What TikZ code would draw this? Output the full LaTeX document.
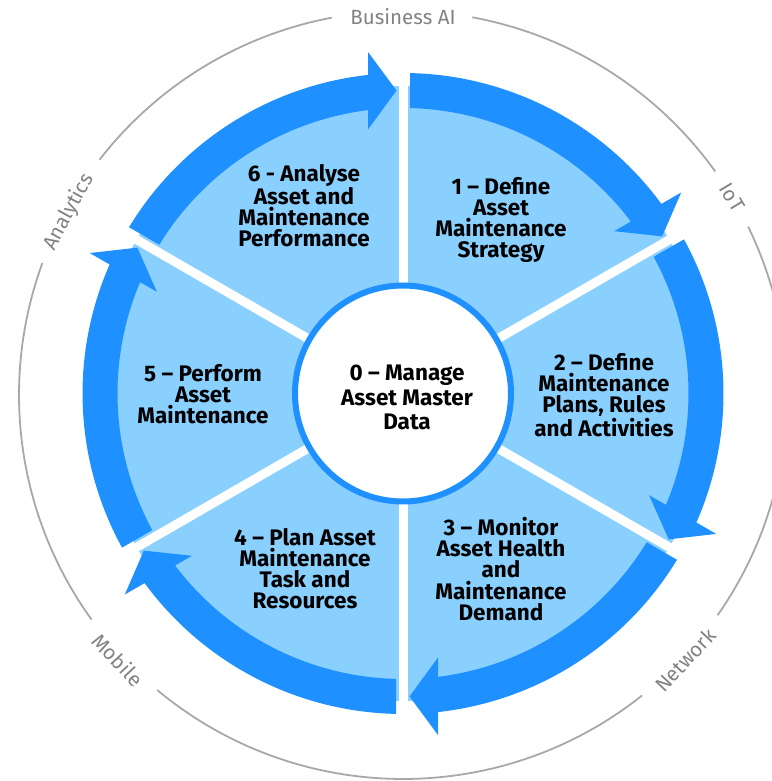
\documentclass[tikz,border=0pt]{standalone}
\usepackage{fontspec}
\setmainfont{Fira Sans}
\definecolor{dblue}{RGB}{30,144,255}
\definecolor{lblue}{RGB}{138,208,255}
\definecolor{ringgray}{RGB}{168,168,168}
\definecolor{ringtext}{RGB}{130,130,130}
\tikzset{
  steplabel/.style={font=\bfseries\fontsize{22.5}{21.2}\selectfont, align=center, text=black, inner sep=0pt},
  centerlabel/.style={font=\bfseries\fontsize{22.5}{24.5}\selectfont, align=center, text=black, inner sep=0pt},
  ringlabel/.style={font=\fontsize{20.5}{22}\selectfont, text=ringtext, inner sep=0pt, text depth=0pt},
  ringline/.style={draw=ringgray, line width=1.8pt},
  gapstrip/.style={draw=white, line width=9pt},
}
\begin{document}
\begin{tikzpicture}[x=1pt,y=1pt]
\useasboundingbox (0,0) rectangle (771,781);
% outer gray ring (center 403,395 in image coords)
\begin{scope}[shift={(403,386)}]
  \coordinate (ringc) at (0,0);
  \draw[ringline] (35.6:384) arc[start angle=35.6, end angle=79.6, radius=384];
  \draw[ringline] (100.7:384) arc[start angle=100.7, end angle=142.2, radius=384];
  \draw[ringline] (159.9:384) arc[start angle=159.9, end angle=215.8, radius=384];
  \draw[ringline] (230.2:384) arc[start angle=230.2, end angle=308.5, radius=384];
  \draw[ringline] (-35.0:384) arc[start angle=-35.0, end angle=26.0, radius=384];
  \node[ringlabel] (bai) at (90:378) {Business AI};
  \node[ringlabel, rotate=-59] (iot) at (31:384) {IoT};
  \node[ringlabel, rotate=61.3] (ana) at (151.3:383) {Analytics};
  \node[ringlabel, rotate=-47.1] (mob) at (-137.1:389) {Mobile};
  \node[ringlabel, rotate=46.8] (net) at (-43.2:387) {Network};
\end{scope}
% wheel (center 403,393.5 in image coords)
\begin{scope}[shift={(403,387.5)}]
  \fill[lblue] (0,0) circle[radius=307.5];
  \foreach \a in {90,30,-30,-90,-150,150}{
    \begin{scope}[rotate=\a]
      \fill[dblue] (-1.2515:320.5) arc[start angle=-1.2515, end angle=-53.730, radius=320.5]
        -- (-54.148:343.29) -- (-58.771:303.07) -- (-52.448:266.31) -- (-52.958:285.5)
        arc[start angle=-52.958, end angle=-1.405, radius=285.5] -- cycle;
      \draw[gapstrip] (0,0) -- (310,0);
    \end{scope}
  }
  \node[draw=dblue, line width=6pt, fill=white, circle, minimum size=216pt, inner sep=0pt] (hub) at (0,0) {};
\end{scope}
\node[centerlabel] (c0) at (407,383.5) {0 – Manage\\Asset Master\\Data};
\node[steplabel] (s1) at (501,561) {1 – Define\\Asset\\Maintenance\\Strategy};
\node[steplabel] (s2) at (604,386) {2 – Define\\Maintenance\\Plans, Rules\\and Activities};
\node[steplabel] (s3) at (501,212) {3 – Monitor\\Asset Health\\and\\Maintenance\\Demand};
\node[steplabel] (s4) at (305,212.5) {4 – Plan Asset\\Maintenance\\Task and\\Resources};
\node[steplabel] (s5) at (203,387) {5 – Perform\\Asset\\Maintenance};
\node[steplabel] (s6) at (304,575.5) {6 - Analyse\\Asset and\\Maintenance\\Performance};
\end{tikzpicture}
\end{document}
